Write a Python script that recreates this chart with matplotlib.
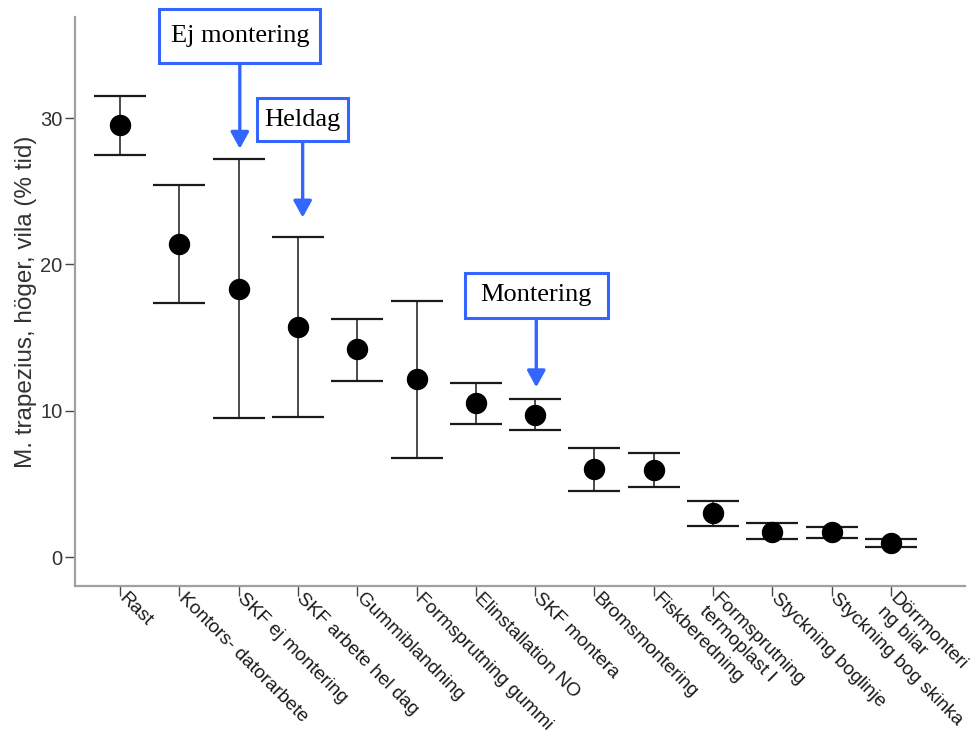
import numpy as np
import matplotlib
matplotlib.use("Agg")
import matplotlib.pyplot as plt
import matplotlib.transforms as mtransforms

# yrken, sorterade efter medelvärde
categories = ["Rast", "Kontors- datorarbete", "SKF ej montering", "SKF arbete hel dag",
              "Gummiblandning", "Formsprutning gummi", "Elinstallation NO", "SKF montera",
              "Bromsmontering", "Fiskberedning", "Formsprutning\ntermoplast I",
              "Styckning boglinje", "Styckning bog skinka", "Dörrmonteri\nng bilar"]
means = np.array([29.5, 21.4, 18.3, 15.75, 14.2, 12.15, 10.55, 9.73,
                  6.0, 5.95, 2.99, 1.73, 1.69, 0.94])
upper = np.array([31.5, 25.4, 27.2, 21.9, 16.3, 17.5, 11.9, 10.8,
                  7.43, 7.11, 3.83, 2.3, 2.03, 1.23])
lower = np.array([27.5, 17.35, 9.5, 9.58, 12.06, 6.75, 9.12, 8.67,
                  4.49, 4.81, 2.1, 1.23, 1.32, 0.68])

yticks = [0, 10, 20, 30]
ylabel = "M. trapezius, höger, vila (% tid)"

note_texts = ["Ej montering", "Heldag", "Montering"]

# placering av rutorna: x, pilspets y, ruta y, pad, höjdfaktor
note_layout = [(2.02, 27.9, 35.6, 0.42, 1.41),
               (3.08, 23.2, 29.9, 0.28, 1.4),
               (7.02, 11.6, 17.9, 0.6, 0.72)]

blue = "#3366ff"
axis_grey = "#a0a0a0"

fig = plt.figure(figsize=(9.75, 7.42), dpi=100)
ax = fig.add_axes([0.0769, 0.2106, 0.9128, 0.7664])

x = np.arange(len(categories))
ax.errorbar(x, means, yerr=[means - lower, upper - means], fmt="o",
            color="black", ecolor="#1a1a1a", ms=14.4, capsize=18.4,
            elinewidth=1.1, capthick=1.6)

ax.set_xlim(-0.76, 14.25)
ax.set_ylim(-1.96, 36.9)

for side in ["top", "right"]:
    ax.spines[side].set_visible(False)
for side in ["left", "bottom"]:
    ax.spines[side].set_color(axis_grey)
    ax.spines[side].set_linewidth(1.6)

ax.set_yticks(yticks)
ax.set_yticklabels([str(v) for v in yticks], fontsize=14.5, color="#333333",
                   family="Liberation Sans")
ax.tick_params(axis="y", length=7.5, width=1.0, color="#444444", pad=1.5)

ax.set_xticks(x)
ax.set_xticklabels(categories, rotation=-45, ha="left", va="top",
                   rotation_mode="anchor", fontsize=13.8, color="#1a1a1a",
                   family="Liberation Sans", linespacing=1.05)
ax.tick_params(axis="x", length=7.5, width=1.0, color="#444444", pad=1)

# flytta etiketterna så att första raden går genom tickmarkeringen
shift = mtransforms.ScaledTranslation(0.075, 0.075, fig.dpi_scale_trans)
for lab in ax.get_xticklabels():
    lab.set_transform(lab.get_transform() + shift)

ax.set_ylabel(ylabel, fontsize=17.5, color="#333333", family="Liberation Sans",
              labelpad=2.5)

for text, (nx, tip_y, box_y, pad, aspect) in zip(note_texts, note_layout):
    ax.annotate(text, xy=(nx, tip_y), xytext=(nx, box_y),
                ha="center", va="center", fontsize=19,
                family="Liberation Serif", color="black",
                bbox=dict(boxstyle=f"square,pad={pad}", mutation_aspect=aspect,
                          fc="white", ec=blue, lw=2.2),
                arrowprops=dict(arrowstyle="-|>,head_length=1.0,head_width=0.55",
                                mutation_scale=10, color=blue, lw=2.4,
                                shrinkA=0, shrinkB=0),
                annotation_clip=False)

fig.savefig("out.png", dpi=100)
